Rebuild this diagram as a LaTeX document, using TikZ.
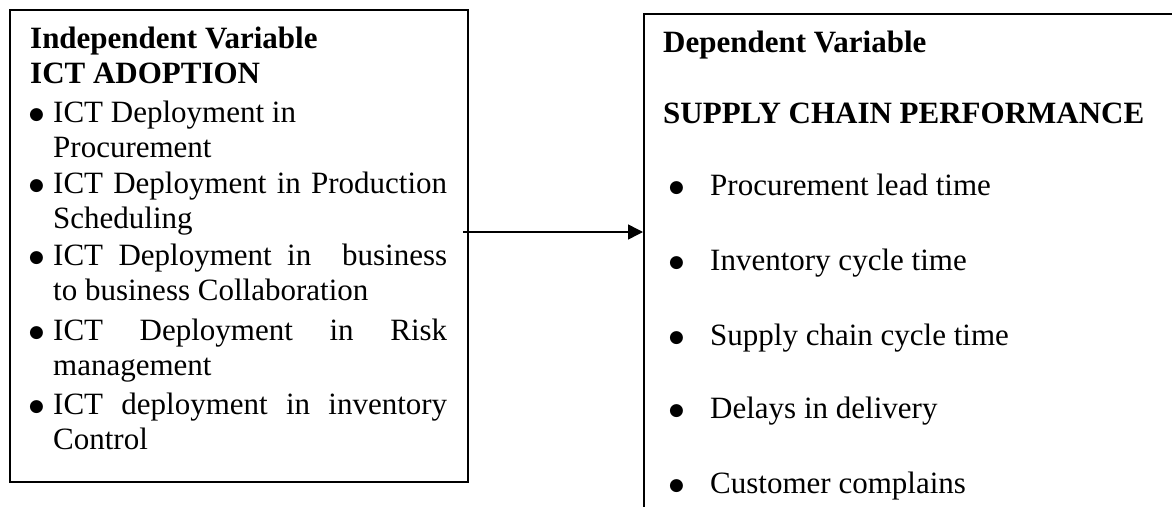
\documentclass[tikz,border=0pt]{standalone}
\usepackage{fontspec}
\setmainfont{Liberation Serif}
\newfontfamily\dotfont{DejaVu Sans}
\usetikzlibrary{arrows.meta}
% a solid round bullet, set on the text baseline
\newcommand{\bigdot}{\raisebox{2.5pt}{\fontsize{17pt}{17pt}\dotfont ●}}
% bullet helpers for the two lists
\newcommand{\lbul}{\makebox[23pt][l]{\hspace*{-1pt}\bigdot}}
\newcommand{\lcont}{\hspace*{23pt}}
\newcommand{\rbul}{\hspace*{6pt}\makebox[41pt][l]{\bigdot}}
\begin{document}
\begin{tikzpicture}[x=1pt,y=-1pt,
  frame/.style={draw=black, line width=1.6pt, rectangle, inner sep=0pt, anchor=north west},
  body/.style={inner sep=0pt, anchor=base west},
  link/.style={line width=1.5pt, -{Triangle[length=15pt,width=15pt]}}]
\useasboundingbox (0,0) rectangle (1172,506);
\clip (0,0) rectangle (1172,506);

% boxes
\node[frame, minimum width=458pt, minimum height=472pt] (ivbox) at (9,9) {};
\node[frame, minimum width=560pt, minimum height=540pt] (dvbox) at (643,13) {};

% independent variable
\node[body] (ivtext) at (30,48) {\begin{minipage}[t]{417pt}\fontsize{31pt}{35pt}\selectfont
\textbf{Independent Variable}\\
\textbf{ICT ADOPTION}\\[4pt]
\lbul ICT Deployment in\\
\lcont Procurement\\[1pt]
\lbul \makebox[394pt][s]{ICT Deployment in Production}\\
\lcont Scheduling\\[2pt]
\lbul \makebox[394pt][s]{ICT Deployment in \ business}\\
\lcont to business Collaboration\\[5pt]
\lbul \makebox[394pt][s]{ICT Deployment in Risk}\\
\lcont management\\[4pt]
\lbul \makebox[394pt][s]{ICT deployment in inventory}\\
\lcont Control
\end{minipage}};

% dependent variable
\node[body] (dvtext) at (663,52) {\begin{minipage}[t]{500pt}\fontsize{31pt}{73pt}\selectfont
\textbf{Dependent Variable}\\[-2pt]
\textbf{SUPPLY CHAIN PERFORMANCE}\\[-1pt]
\rbul Procurement lead time\\[2pt]
\rbul Inventory cycle time\\[2pt]
\rbul Supply chain cycle time\\[0pt]
\rbul Delays in delivery\\[2pt]
\rbul Customer complains
\end{minipage}};

% relation
\coordinate (tail) at (463,232);
\draw[link] (tail) -- (tail -| dvbox.west);
\end{tikzpicture}
\end{document}
